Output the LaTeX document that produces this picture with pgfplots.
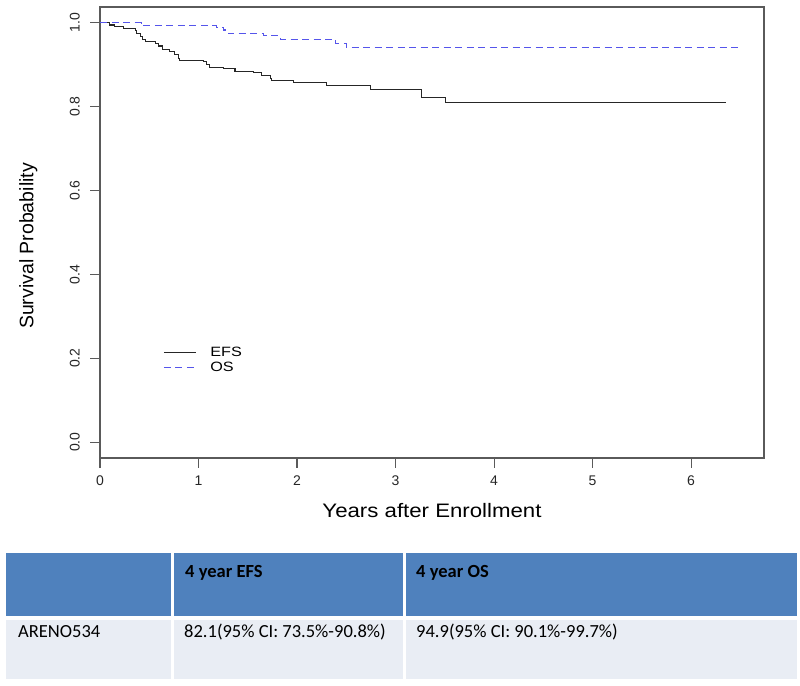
\documentclass[border=0pt]{standalone}
\usepackage{graphicx}
\usepackage{fontspec}
\setmainfont{Liberation Sans}
\newfontfamily\tablefont{Carlito}
\usepackage{pgfplots}
\pgfplotsset{compat=1.18}
\definecolor{osblue}{RGB}{85,85,235}
\definecolor{boxgray}{RGB}{90,90,90}
\definecolor{hdrblue}{RGB}{79,129,189}
\definecolor{rowgray}{RGB}{233,237,244}
\begin{document}
\begin{tikzpicture}
\path[use as bounding box] (0pt,0pt) rectangle (800pt,685pt);
\begin{axis}[
  at={(100pt,227pt)}, anchor=south west,
  scale only axis, width=664pt, height=451pt,
  xmin=0, xmax=6.74, ymin=-0.038, ymax=1.038,
  xtick={0,1,2,3,4,5,6},
  ytick={0,0.2,0.4,0.6,0.8,1.0},
  yticklabels={0.0,0.2,0.4,0.6,0.8,1.0},
  xticklabels={0,1,2,3,4,5,6},
  tick align=outside,
  major tick length=10pt,
  xtick pos=left, ytick pos=left,
  tick style={boxgray, line width=1.1pt},
  tick label style={font=\fontsize{14}{16}\selectfont, text=black!85},
  yticklabel style={rotate=90, anchor=south, inner sep=0pt, yshift=10pt},
  xticklabel style={anchor=north, inner sep=0pt, yshift=-8pt},
  axis line style={boxgray, line width=1.1pt},
  xlabel={\scalebox{1.14}[1]{Years after Enrollment}},
  ylabel={Survival Probability},
  xlabel style={font=\fontsize{19.5}{22}\selectfont, at={(axis description cs:0.5,-0.1175)}, anchor=center, inner sep=0pt},
  ylabel style={font=\fontsize{19.5}{22}\selectfont, at={(axis description cs:-0.108,0.47)}, anchor=center, rotate=0, inner sep=0pt},
  legend style={draw=none, fill=none, at={(axis cs:0.64,0.195)}, anchor=west, inner sep=0pt, row sep=0pt, column sep=12pt, font=\fontsize{13.5}{15}\selectfont, cells={anchor=west}},
  legend image code/.code={\draw[#1] (0pt,0pt) -- (32pt,0pt);},
]
\addplot[const plot, black!85, line width=1.1pt] coordinates {
(0,1.0) (0.10,0.995) (0.15,0.991) (0.24,0.987) (0.36,0.982) (0.37,0.974)
(0.41,0.967) (0.43,0.961) (0.46,0.955) (0.56,0.951) (0.59,0.945) (0.63,0.937)
(0.71,0.932) (0.76,0.924) (0.80,0.916) (0.81,0.910) (1.05,0.908) (1.08,0.901)
(1.11,0.894) (1.25,0.891) (1.37,0.885) (1.56,0.881) (1.64,0.875) (1.73,0.868)
(1.74,0.862) (1.96,0.858) (2.30,0.850) (2.75,0.842) (3.26,0.822) (3.51,0.810)
(6.35,0.810)};
\addlegendentry{\scalebox{1.2}[1]{EFS}}
\addplot[const plot, osblue, line width=1.1pt, dash pattern=on 7pt off 4.5pt] coordinates {
(0,1.0) (0.42,0.994) (1.18,0.990) (1.25,0.983) (1.30,0.974) (1.66,0.969)
(1.83,0.961) (2.39,0.951) (2.50,0.942) (6.49,0.942)};
\addlegendentry{\scalebox{1.2}[1]{OS}}
\end{axis}
% summary table
\fill[hdrblue] (6pt,69pt) rectangle (171pt,132pt);
\fill[hdrblue] (174pt,69pt) rectangle (403pt,132pt);
\fill[hdrblue] (406pt,69pt) rectangle (797pt,132pt);
\fill[rowgray] (6pt,6pt) rectangle (171pt,65pt);
\fill[rowgray] (174pt,6pt) rectangle (403pt,65pt);
\fill[rowgray] (406pt,6pt) rectangle (797pt,65pt);
\begin{scope}[every node/.style={anchor=base west, inner sep=0pt, font=\tablefont\fontsize{18.5}{20}\selectfont}]
\node[font=\tablefont\bfseries\fontsize{18.5}{20}\selectfont] at (185pt,107pt) {4 year EFS};
\node[font=\tablefont\bfseries\fontsize{18.5}{20}\selectfont] at (416pt,107pt) {4 year OS};
\node at (18pt,47pt) {ARENO534};
\node at (184pt,47pt) {82.1(95\% CI: 73.5\%-90.8\%)};
\node at (416pt,47pt) {94.9(95\% CI: 90.1\%-99.7\%)};
\end{scope}
\end{tikzpicture}
\end{document}
